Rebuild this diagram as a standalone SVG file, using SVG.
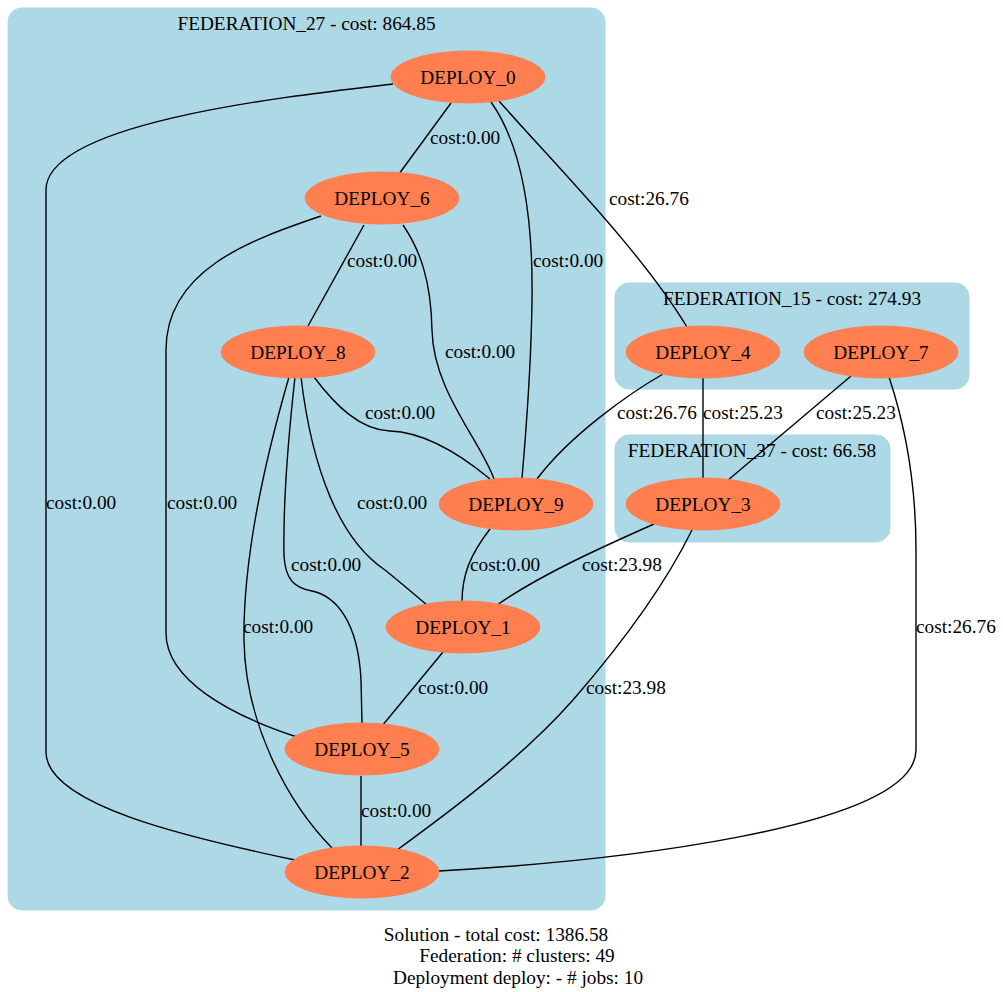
<svg xmlns="http://www.w3.org/2000/svg" width="1003" height="992" viewBox="0 0 1003 992">
<style>
  text { font-family: "Liberation Serif", "Times New Roman", serif; font-size: 19.3px; fill: #000; }
  .cluster rect { fill: #add8e6; stroke: #add8e6; }
  .node ellipse { fill: #ff7f50; stroke: #ff7f50; }
  .node text, .cluster text, .footer text { text-anchor: middle; }
  #edges path { fill: none; stroke: #000; stroke-width: 1.4; }
</style>
<rect width="1003" height="992" fill="#fff"/>

<!-- clusters -->
<g id="cluster_federation_27" class="cluster">
  <rect x="8" y="8" width="597" height="902" rx="14"/>
  <text x="306.5" y="30">FEDERATION_27 - cost: 864.85</text>
</g>
<g id="cluster_federation_15" class="cluster">
  <rect x="615" y="283" width="354" height="106" rx="14"/>
  <text x="792" y="305">FEDERATION_15 - cost: 274.93</text>
</g>
<g id="cluster_federation_37" class="cluster">
  <rect x="615" y="435" width="275" height="107" rx="14"/>
  <text x="752" y="457">FEDERATION_37 - cost: 66.58</text>
</g>

<!-- connectors -->
<g id="edges">
  <path d="M451,103 L399,174"/>
  <text x="430" y="144">cost:0.00</text>
  <path d="M393,84 C290,96 46,122 46,190 L46,752 C46,805 190,838 295,860"/>
  <text x="46" y="509">cost:0.00</text>
  <path d="M491,102 C525,150 533,230 532,300 C531,380 525,440 522,479"/>
  <text x="533" y="267">cost:0.00</text>
  <path d="M499,101 C560,170 640,250 687,327"/>
  <text x="609" y="205">cost:26.76</text>
  <path d="M364,225 L308,326"/>
  <text x="347" y="267">cost:0.00</text>
  <path d="M403,225 C420,250 431,280 432,330 C433,390 480,440 494,479"/>
  <text x="445" y="358">cost:0.00</text>
  <path d="M321,216 C250,240 166,270 166,350 L166,633 C166,680 230,715 297,737"/>
  <text x="167" y="509">cost:0.00</text>
  <path d="M314,377 C335,405 360,430 390,431 C420,432 455,450 490,479"/>
  <text x="365" y="419">cost:0.00</text>
  <path d="M301,377 C312,470 340,540 385,570 C400,582 415,595 427,605"/>
  <text x="357" y="509">cost:0.00</text>
  <path d="M295,377 C288,440 283,500 284,555 C285,580 295,588 312,591 C335,596 358,620 361,680 L362,723"/>
  <text x="291" y="571">cost:0.00</text>
  <path d="M289,377 C265,460 243,560 244,640 C245,720 285,800 332,848"/>
  <text x="243" y="633">cost:0.00</text>
  <path d="M490,529 C470,555 462,575 462,602"/>
  <text x="470" y="571">cost:0.00</text>
  <path d="M443,652 L382,726"/>
  <text x="418" y="694">cost:0.00</text>
  <path d="M361,776 L361,847"/>
  <text x="361" y="817">cost:0.00</text>
  <path d="M663,374 C630,393 570,435 537,479"/>
  <text x="617" y="419">cost:26.76</text>
  <path d="M703,378 L703,479"/>
  <text x="703" y="419">cost:25.23</text>
  <path d="M851,376 L727,481"/>
  <text x="816" y="419">cost:25.23</text>
  <path d="M889,377 C905,425 916,480 916,550 L916,750 C916,830 600,862 439,871"/>
  <text x="916" y="633">cost:26.76</text>
  <path d="M654,524 C600,548 540,575 497,605"/>
  <text x="582" y="571">cost:23.98</text>
  <path d="M692,530 C665,585 625,640 573,700 C520,760 445,815 397,850"/>
  <text x="586" y="694">cost:23.98</text>
</g>

<!-- nodes -->
<g id="DEPLOY_0" class="node"><ellipse cx="468" cy="77" rx="77" ry="26"/><text x="468" y="83.5">DEPLOY_0</text></g>
<g id="DEPLOY_6" class="node"><ellipse cx="382" cy="198" rx="77" ry="26"/><text x="382" y="204.5">DEPLOY_6</text></g>
<g id="DEPLOY_8" class="node"><ellipse cx="298" cy="352" rx="77" ry="26"/><text x="298" y="358.5">DEPLOY_8</text></g>
<g id="DEPLOY_4" class="node"><ellipse cx="703" cy="352" rx="77" ry="26"/><text x="703" y="358.5">DEPLOY_4</text></g>
<g id="DEPLOY_7" class="node"><ellipse cx="881" cy="352" rx="77" ry="26"/><text x="881" y="358.5">DEPLOY_7</text></g>
<g id="DEPLOY_9" class="node"><ellipse cx="516" cy="504" rx="77" ry="26"/><text x="516" y="510.5">DEPLOY_9</text></g>
<g id="DEPLOY_3" class="node"><ellipse cx="703" cy="504" rx="77" ry="26"/><text x="703" y="510.5">DEPLOY_3</text></g>
<g id="DEPLOY_1" class="node"><ellipse cx="463" cy="627" rx="77" ry="26"/><text x="463" y="633.5">DEPLOY_1</text></g>
<g id="DEPLOY_5" class="node"><ellipse cx="362" cy="749" rx="77" ry="26"/><text x="362" y="755.5">DEPLOY_5</text></g>
<g id="DEPLOY_2" class="node"><ellipse cx="362" cy="872" rx="77" ry="26"/><text x="362" y="878.5">DEPLOY_2</text></g>

<!-- graph label -->
<g id="graph_label" class="footer">
  <text x="496" y="941">Solution - total cost: 1386.58</text>
  <text x="517" y="962">Federation: # clusters: 49</text>
  <text x="518" y="984">Deployment deploy: - # jobs: 10</text>
</g>
</svg>
